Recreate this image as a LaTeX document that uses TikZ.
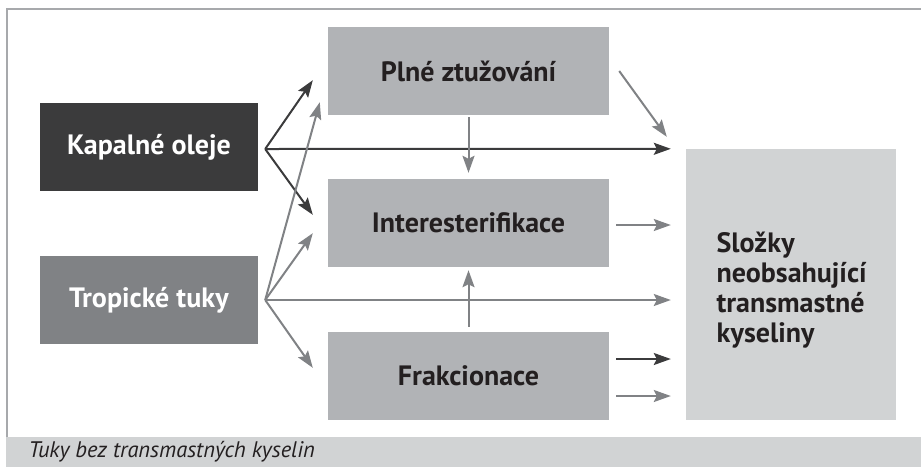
\documentclass[tikz,border=0pt]{standalone}
\usepackage{fontspec}
\setmainfont{PT Sans}
\usetikzlibrary{arrows.meta}
\definecolor{darkbox}{HTML}{3B3B3C}
\definecolor{midbox}{HTML}{808285}
\definecolor{procbox}{HTML}{B1B3B6}
\definecolor{lightbox}{HTML}{D1D3D4}
\definecolor{framegray}{HTML}{A7A9AC}
\definecolor{textblack}{HTML}{231F20}
\tikzset{
  box/.style={minimum width=#1, minimum height=88pt, inner sep=0pt, font=\fontsize{28}{30}\selectfont\bfseries},
  darrow/.style={draw=darkbox, line width=2pt, -{Stealth[length=17pt,width=12pt,inset=3pt]}},
  garrow/.style={draw=midbox, line width=2pt, -{Stealth[length=17pt,width=12pt,inset=3pt]}}
}
\begin{document}
\begin{tikzpicture}[x=1pt,y=-1pt]

      \useasboundingbox (0,0) rectangle (921,467);
      \fill[lightbox] (6,437) rectangle (921,467); % caption bar
      \draw[framegray,line width=1.5pt] (921,9) -- (7,9) -- (7,437); % frame

      \node[box=218pt, fill=darkbox, text=white] (kapalne) at (149,147) {Kapalné oleje};
      \node[box=218pt, fill=midbox, text=white] (tropicke) at (149,300) {Tropické tuky};
      \node[box=281pt, fill=procbox, text=textblack] (plne) at (468.5,71) {Plné ztužování};
      \node[box=281pt, fill=procbox, text=textblack] (inter) at (468.5,223) {Interesterifikace};
      \node[box=281pt, fill=procbox, text=textblack] (frakc) at (468.5,376) {Frakcionace};
      \node[fill=lightbox, minimum width=210pt, minimum height=271pt, inner sep=0pt] (slozky) at (791,284.5) {};
      \node[anchor=west, align=left, text=textblack, font=\fontsize{28}{30}\selectfont\bfseries] (slozkytext) at (713,290)
        {Složky\\neobsahující\\transmastné\\kyseliny};

      % kapalne oleje
      \draw[darrow] ([xshift=7pt,yshift=-2pt]kapalne.east) -- ([xshift=-15pt,yshift=35pt]plne.south west);
      \draw[darrow] ([xshift=7pt,yshift=-2pt]kapalne.east) -- ([xshift=-15pt,yshift=-36pt]inter.north west);
      \draw[darrow] ([xshift=7pt,yshift=-2pt]kapalne.east) -- ([xshift=-15pt]slozky.north west);

      % tropicke tuky
      \draw[garrow] ([xshift=7pt]tropicke.east) -- ([xshift=-8pt,yshift=13pt]plne.south west);
      \draw[garrow] ([xshift=7pt]tropicke.east) -- ([xshift=-15pt,yshift=34pt]inter.south west);
      \draw[garrow] ([xshift=7pt]tropicke.east) -- ([xshift=-15pt]tropicke.east -| slozky.west);
      \draw[garrow] ([xshift=7pt]tropicke.east) -- ([xshift=-15pt,yshift=-36pt]frakc.north west);

      % mezi procesy
      \draw[garrow] ([xshift=10pt]plne.east) -- ([xshift=-19pt,yshift=12pt]slozky.north west);
      \draw[garrow] ([yshift=-2pt]plne.south) -- ([yshift=6pt]inter.north);
      \draw[garrow] ([yshift=5pt]frakc.north) -- ([yshift=-3pt]inter.south);

      \foreach \from/\dy/\style in {inter/-2/garrow, frakc/17/darrow, frakc/-20/garrow}
      \draw[\style] ([xshift=7pt,yshift=\dy pt]\from.east) -- ([xshift=-15pt,yshift=\dy pt]\from.east -| slozky.west);

      \node[anchor=west, text=textblack, font=\fontsize{22.5}{24}\selectfont\itshape] (popis) at (25,452) {Tuky bez transmastných kyselin};

\end{tikzpicture}
\end{document}
